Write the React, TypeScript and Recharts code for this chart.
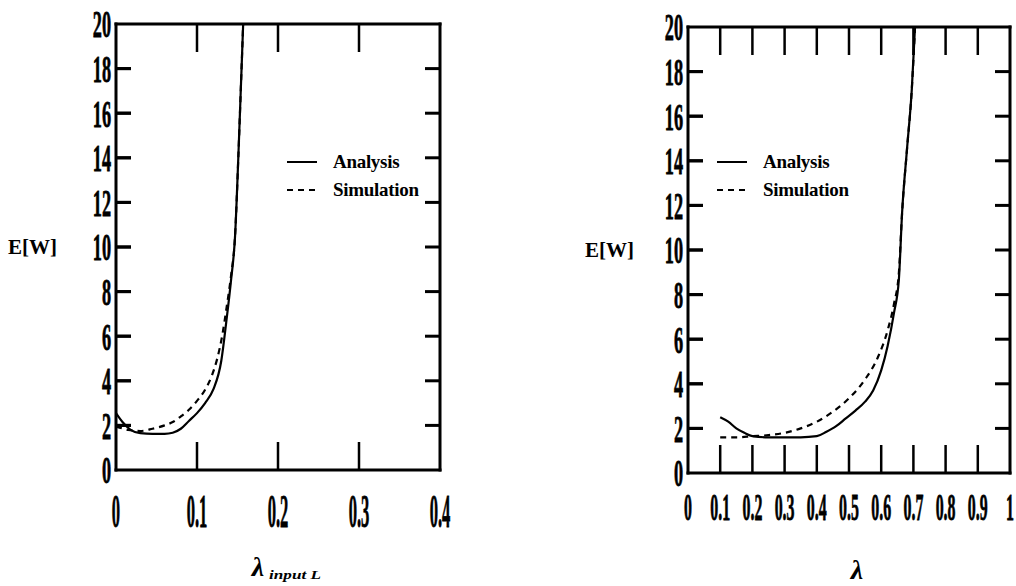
import React from "react";
import { LineChart, Line, XAxis, YAxis, Legend } from "recharts";

const Y_TICKS = [0, 2, 4, 6, 8, 10, 12, 14, 16, 18, 20];
const LEFT_X_TICKS = [0, 0.1, 0.2, 0.3, 0.4];
const RIGHT_X_TICKS = [0, 0.1, 0.2, 0.3, 0.4, 0.5, 0.6, 0.7, 0.8, 0.9, 1];

// left panel: E[W] vs lambda input L
const leftAnaX = [0, 0.008, 0.018, 0.03, 0.045, 0.06, 0.07, 0.08, 0.09, 0.1, 0.11, 0.12, 0.13, 0.136, 0.142, 0.147, 0.151, 0.155, 0.157];
const leftAnaY = [2.55, 2.15, 1.8, 1.65, 1.62, 1.62, 1.67, 1.85, 2.2, 2.55, 3.0, 3.6, 4.9, 6.6, 8.5, 10.5, 14, 18, 20];
const leftSimX = [0, 0.015, 0.03, 0.045, 0.06, 0.07, 0.08, 0.09, 0.1, 0.11, 0.118, 0.125, 0.131, 0.137, 0.142, 0.147, 0.151, 0.155, 0.157];
const leftSimY = [1.95, 1.8, 1.75, 1.85, 2.0, 2.15, 2.4, 2.7, 3.1, 3.6, 4.2, 5.0, 6.0, 7.4, 8.7, 10.5, 14, 18, 20];

// right panel: E[W] vs lambda
const rightAnaX = [0.1, 0.125, 0.15, 0.175, 0.2, 0.25, 0.3, 0.35, 0.4, 0.43, 0.46, 0.49, 0.52, 0.55, 0.575, 0.6, 0.62, 0.64, 0.655, 0.665, 0.68, 0.695, 0.705];
const rightAnaY = [2.5, 2.3, 2.0, 1.8, 1.65, 1.6, 1.6, 1.6, 1.65, 1.85, 2.1, 2.45, 2.8, 3.2, 3.7, 4.6, 5.7, 7.2, 8.7, 11.7, 14.5, 17.2, 20];
const rightSimX = [0.1, 0.15, 0.2, 0.25, 0.3, 0.35, 0.4, 0.45, 0.5, 0.55, 0.59, 0.62, 0.64, 0.655, 0.665, 0.68, 0.695, 0.705];
const rightSimY = [1.6, 1.6, 1.65, 1.7, 1.8, 2.0, 2.3, 2.75, 3.35, 4.2, 5.2, 6.4, 7.6, 9.0, 11.7, 14.5, 17.2, 20];

const SERIES = ["Analysis", "Simulation"];
const DASH: Record<string, string | undefined> = { Analysis: undefined, Simulation: "6 5" };

const FONT = '"Liberation Serif", "DejaVu Serif", serif';
const PLOT_H = 446;
const Y_MAX = Y_TICKS[Y_TICKS.length - 1];
const INNER_Y = Y_TICKS.filter((t) => t !== Y_TICKS[0] && t !== Y_MAX);

const zip = (xs: number[], ys: number[]) => xs.map((x, i) => ({ x, y: ys[i] }));

const frame = { stroke: "#000", strokeWidth: 3, strokeLinecap: "square" as const };

// y ticks: label on the left, inner mark on the right side of the frame
function yTick(plotW: number, len: number, gap: number) {
  return (props: any) => {
    const { x, y, payload } = props;
    const v = payload.value;
    const edge = v === Y_TICKS[0] || v === Y_MAX;
    return (
      <g>
        {!edge && <path d={`M${x},${y}h${len}`} stroke="#000" strokeWidth={3} />}
        {!edge && <path d={`M${x + plotW},${y}h${-len}`} stroke="#000" strokeWidth={3} />}
        <text
          transform={`translate(${x - gap},${y}) scale(0.48,1)`}
          textAnchor="end"
          dominantBaseline="central"
          fontFamily={FONT}
          fontWeight="bold"
          fontSize={38}
          fill="#000"
          stroke="#000"
          strokeWidth={0.8}
        >
          {v}
        </text>
      </g>
    );
  };
}

// x ticks: label below, inner marks at bottom and top of the frame
function xTick(ticks: number[], len: number, font: number, sx: number, drop: number) {
  return (props: any) => {
    const { x, y, payload } = props;
    const v = payload.value;
    const edge = v === ticks[0] || v === ticks[ticks.length - 1];
    return (
      <g>
        {!edge && <path d={`M${x},${y}v${-len}`} stroke="#000" strokeWidth={2.5} />}
        {!edge && <path d={`M${x},${y - PLOT_H}v${len}`} stroke="#000" strokeWidth={2.5} />}
        <text
          transform={`translate(${x},${y + drop}) scale(${sx},1)`}
          textAnchor="middle"
          fontFamily={FONT}
          fontWeight="bold"
          fontSize={font}
          fill="#000"
          stroke="#000"
          strokeWidth={0.8}
        >
          {String(v)}
        </text>
      </g>
    );
  };
}

const LegendBox = (props: any) => (
  <div style={{ fontFamily: FONT, fontWeight: "bold", fontSize: 19, lineHeight: "28px", color: "#000" }}>
    {(props.payload || []).map((e: any) => (
      <div key={e.value} style={{ display: "flex", alignItems: "center", whiteSpace: "nowrap" }}>
        <svg width={30} height={4} style={{ display: "block" }}>
          <line x1={0} y1={2} x2={30} y2={2} stroke="#000" strokeWidth={2} strokeDasharray={DASH[e.value]} />
        </svg>
        <span style={{ marginLeft: 16, letterSpacing: -0.3 }}>{e.value}</span>
      </div>
    ))}
  </div>
);

type PanelProps = {
  left: number;
  width: number;
  yAxisW: number;
  rightW: number;
  topH: number;
  xTicks: number[];
  analysis: { x: number; y: number }[];
  simulation: { x: number; y: number }[];
  legendLeft: number;
  ewOffset: number;
  xFont: number;
  xScale: number;
  xDrop: number;
  lambdaDx: number;
  sub?: string;
};

function Panel(p: PanelProps) {
  const H = 586;
  const plotW = p.width - p.yAxisW - p.rightW;
  const lambda = (lp: any) => {
    const vb = lp.viewBox || {};
    const cx = vb.x + vb.width / 2 + p.lambdaDx;
    const by = vb.y + 106;
    return (
      <g>
        <text x={cx} y={by} textAnchor="middle" fontFamily={FONT} fontStyle="italic" fontWeight="bold" fontSize={28} fill="#000">
          λ
        </text>
        {p.sub && (
          <text
            x={cx + 11}
            y={by + 3}
            fontFamily={FONT}
            fontStyle="italic"
            fontWeight="bold"
            fontSize={12}
            textLength={52}
            lengthAdjust="spacingAndGlyphs"
            fill="#000"
          >
            {p.sub}
          </text>
        )}
      </g>
    );
  };
  const xMax = p.xTicks[p.xTicks.length - 1];
  return (
    <div style={{ position: "absolute", left: p.left, top: 0, width: p.width, height: H }}>
      <LineChart width={p.width} height={H} margin={{ top: 0, right: 0, bottom: 0, left: 0 }}>
        <XAxis
          type="number"
          dataKey="x"
          domain={[0, xMax]}
          ticks={p.xTicks}
          interval={0}
          height={H - p.topH - PLOT_H}
          axisLine={frame}
          tickLine={false}
          tickSize={0}
          tickMargin={0}
          tick={xTick(p.xTicks, 28, p.xFont, p.xScale, p.xDrop)}
          label={lambda}
          allowDataOverflow
        />
        <XAxis xAxisId="t" orientation="top" type="number" domain={[0, xMax]} height={p.topH} axisLine={frame} tickLine={false} tick={false} />
        <YAxis
          type="number"
          domain={[0, Y_MAX]}
          ticks={Y_TICKS}
          interval={0}
          width={p.yAxisW}
          axisLine={frame}
          tickLine={false}
          tickSize={0}
          tickMargin={0}
          tick={yTick(plotW, 15, 5)}
          label={{
            value: "E[W]",
            position: "insideLeft",
            offset: p.ewOffset,
            fontFamily: FONT,
            fontWeight: "bold",
            fontSize: 21,
            fill: "#000",
          }}
          allowDataOverflow
        />
        <YAxis yAxisId="r" orientation="right" type="number" domain={[0, Y_MAX]} width={p.rightW} axisLine={frame} tickLine={false} tick={false} />
        <Legend
          layout="vertical"
          align="center"
          verticalAlign="middle"
          wrapperStyle={{ left: p.legendLeft, top: 148, width: "auto" }}
          content={LegendBox}
        />
        <Line
          name={SERIES[0]}
          data={p.analysis}
          dataKey="y"
          type="monotone"
          stroke="#000"
          strokeWidth={2.2}
          dot={false}
          isAnimationActive={false}
        />
        <Line
          name={SERIES[1]}
          data={p.simulation}
          dataKey="y"
          type="monotone"
          stroke="#000"
          strokeWidth={2.2}
          strokeDasharray={DASH[SERIES[1]]}
          dot={false}
          isAnimationActive={false}
        />
      </LineChart>
      {/* inner tick marks on the left frame, laid over the chart */}
      <svg
        width={p.width}
        height={H}
        style={{ position: "absolute", left: 0, top: 0, pointerEvents: "none", zIndex: 5 }}
      >
        {INNER_Y.map((t) => (
          <path key={t} d={`M${p.yAxisW},${p.topH + PLOT_H - (t / Y_MAX) * PLOT_H}h15`} stroke="#000" strokeWidth={3} />
        ))}
      </svg>
    </div>
  );
}

export default function App() {
  return (
    <div style={{ position: "absolute", left: 0, top: 0, width: 1016, height: 586, background: "#fff", overflow: "hidden" }}>
      <Panel
        left={0}
        width={460}
        yAxisW={116}
        rightW={20}
        topH={24}
        xTicks={LEFT_X_TICKS}
        analysis={zip(leftAnaX, leftAnaY)}
        simulation={zip(leftSimX, leftSimY)}
        legendLeft={287}
        ewOffset={8}
        xFont={46}
        xScale={0.36}
        xDrop={57}
        lambdaDx={-20}
        sub="input L"
      />
      <Panel
        left={546}
        width={470}
        yAxisW={142}
        rightW={6}
        topH={27}
        xTicks={RIGHT_X_TICKS}
        analysis={zip(rightAnaX, rightAnaY)}
        simulation={zip(rightSimX, rightSimY)}
        legendLeft={171}
        ewOffset={39}
        xFont={37}
        xScale={0.43}
        xDrop={47}
        lambdaDx={8}
      />
    </div>
  );
}
